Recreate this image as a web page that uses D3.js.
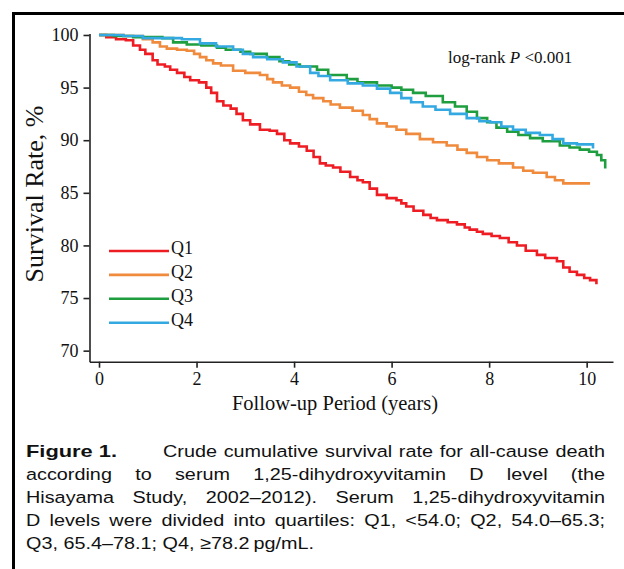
<!DOCTYPE html>
<html>
<head>
<meta charset="utf-8">
<script src="https://cdn.jsdelivr.net/npm/d3@7"></script>
<style>
body { margin: 0; background: #fff; }
svg { display: block; }
.tick text { font-family: "Liberation Serif", "Times New Roman", serif; font-size: 18px; fill: #111; }
</style>
</head>
<body>
<script>
// Kaplan-Meier steps: [years, survival %]
var q1 = [[0,100],[0.15,99.8],[0.35,99.6],[0.55,99.5],[0.7,99.0],[0.84,98.6],[0.95,98.2],[1.1,97.6],[1.2,97.2],
	[1.35,97.0],[1.46,96.7],[1.6,96.4],[1.75,96.0],[1.87,95.7],[2.05,95.5],[2.2,95.0],[2.3,94.5],[2.42,93.7],
	[2.55,93.3],[2.7,93.0],[2.82,92.5],[2.95,91.9],[3.1,91.5],[3.3,91.0],[3.5,90.9],[3.65,90.6],[3.8,90.0],
	[3.92,89.7],[4.1,89.4],[4.26,89.0],[4.4,88.4],[4.53,87.8],[4.65,87.6],[4.8,87.4],[4.95,87.0],[5.15,86.5],
	[5.3,86.2],[5.41,86.0],[5.55,85.4],[5.7,84.8],[5.9,84.5],[6.1,84.3],[6.2,84.0],[6.3,83.7],[6.45,83.3],
	[6.65,82.9],[6.8,82.6],[6.93,82.4],[7.15,82.2],[7.34,82.0],[7.5,81.7],[7.6,81.5],[7.75,81.3],[7.87,81.1],
	[8.05,80.9],[8.22,80.7],[8.4,80.3],[8.57,80.0],[8.75,79.5],[8.98,79.1],[9.15,78.8],[9.39,78.5],[9.52,77.9],
	[9.65,77.5],[9.8,77.2],[9.95,76.9],[10.07,76.7],[10.2,76.3]];
var q2 = [[0,100],[0.5,99.9],[0.9,99.6],[1.1,99.3],[1.25,98.9],[1.39,98.7],[1.6,98.6],[1.8,98.5],[1.95,98.2],
	[2.07,97.9],[2.2,97.6],[2.34,97.3],[2.5,97.1],[2.75,96.6],[3.0,96.4],[3.3,96.2],[3.45,95.8],[3.57,95.5],
	[3.75,95.2],[3.92,95.0],[4.1,94.6],[4.25,94.3],[4.39,94.0],[4.6,93.7],[4.75,93.4],[4.94,93.1],[5.2,92.8],
	[5.41,92.4],[5.55,92.0],[5.7,91.6],[5.9,91.3],[6.1,91.0],[6.3,90.6],[6.58,90.1],[6.85,89.8],[7.13,89.5],
	[7.35,89.1],[7.54,88.8],[7.75,88.4],[7.96,88.1],[8.2,87.8],[8.49,87.4],[8.7,87.1],[8.9,86.9],[9.18,86.5],
	[9.35,86.2],[9.52,85.9],[10.07,85.9]];
var q3 = [[0,100],[0.3,99.9],[0.7,99.8],[1.3,99.7],[1.52,99.3],[1.8,99.1],[2.1,99.0],[2.42,98.8],[2.6,98.6],
	[2.9,98.4],[3.1,98.2],[3.44,97.9],[3.7,97.5],[3.9,97.2],[4.12,97.0],[4.47,96.7],[4.7,96.2],[5.08,95.8],
	[5.3,95.5],[5.7,95.2],[6.0,95.0],[6.2,94.8],[6.44,94.5],[6.7,94.2],[7.05,93.6],[7.3,93.2],[7.54,92.7],
	[7.75,92.1],[7.96,91.7],[8.15,91.2],[8.37,90.8],[8.6,90.5],[8.84,90.2],[9.1,89.9],[9.45,89.5],[9.65,89.3],
	[9.86,89.1],[10.05,88.9],[10.21,88.6],[10.3,88.1],[10.38,87.3]];
var q4 = [[0,100],[0.5,99.9],[0.9,99.7],[1.4,99.7],[1.7,99.6],[2.07,99.2],[2.4,98.9],[2.75,98.6],[2.95,98.2],
	[3.16,97.9],[3.45,97.7],[3.77,97.4],[4.05,97.0],[4.33,96.4],[4.5,96.1],[4.74,95.7],[5.1,95.4],[5.41,95.2],
	[5.7,94.9],[5.97,94.5],[6.2,94.0],[6.4,93.6],[6.64,93.2],[6.9,92.9],[7.2,92.5],[7.54,92.1],[7.8,91.8],
	[8.02,91.7],[8.25,91.3],[8.49,91.0],[8.75,90.7],[9.04,90.5],[9.3,90.1],[9.52,89.7],[9.8,89.6],[10.13,89.2]];

var seriesNames = ['Q1', 'Q2', 'Q3', 'Q4'];
var seriesColors = ['#ee1d23', '#f08a3c', '#1e9e3e', '#34a9e1'];
var xTicks = [0, 2, 4, 6, 8, 10];
var yTicks = [70, 75, 80, 85, 90, 95, 100];
var captionLines = [
	'Crude cumulative survival rate for all-cause death',
	'according to serum 1,25-dihydroxyvitamin D level (the',
	'Hisayama Study, 2002\u20132012). Serum 1,25-dihydroxyvitamin',
	'D levels were divided into quartiles: Q1, <54.0; Q2, 54.0\u201365.3;',
	'Q3, 65.4\u201378.1; Q4, \u226578.2\u2009pg/mL.'
];

var W = 624, H = 569;
var svg = d3.select('body').append('svg')
	.attr('width', W)
	.attr('height', H);

svg.append('rect').attr('width', W).attr('height', H).attr('fill', '#fff');

// frame (left + top rule)
svg.append('path')
	.attr('d', 'M13.5,' + H + 'V13.5H' + W)
	.attr('fill', 'none')
	.attr('stroke', '#000')
	.attr('stroke-width', 3);

var x = d3.scaleLinear()
	.domain([-0.195, 10.54])
	.range([89.5, 613]);

var y = d3.scaleLinear()
	.domain([68.95, 100.15])
	.range([361.7, 33.4]);

svg.append('g')
	.attr('transform', 'translate(0,361.7)')
	.call(d3.axisBottom(x).tickValues(xTicks).tickSize(6).tickSizeOuter(0).tickPadding(5));

svg.append('g')
	.attr('transform', 'translate(89.5,0)')
	.call(d3.axisLeft(y).tickValues(yTicks).tickSize(6).tickSizeOuter(0).tickPadding(5));

svg.selectAll('.domain, .tick line').attr('stroke', '#222').attr('stroke-width', 1.6);

var line = d3.line()
	.curve(d3.curveStepAfter)
	.x(function(d) { return x(d[0]); })
	.y(function(d) { return y(d[1]); });

[q1, q2, q3, q4].forEach(function(s, i) {
	svg.append('path')
		.datum(s)
		.attr('d', line)
		.attr('fill', 'none')
		.attr('stroke', seriesColors[i])
		.attr('stroke-width', 2.6);
});

// legend
var legend = svg.append('g');
seriesNames.forEach(function(n, i) {
	var ly = 251 + i * 23.9;
	legend.append('line')
		.attr('x1', 109).attr('x2', 169)
		.attr('y1', ly).attr('y2', ly)
		.attr('stroke', seriesColors[i])
		.attr('stroke-width', 2.6);
	legend.append('text')
		.attr('x', 171).attr('y', ly + 3)
		.style('font-family', '"Liberation Serif", serif')
		.style('font-size', '18px')
		.attr('fill', '#111')
		.text(n);
});

var lr = svg.append('text')
	.attr('x', 448).attr('y', 63)
	.style('font-family', '"Liberation Serif", serif')
	.style('font-size', '17px')
	.attr('fill', '#111');
lr.append('tspan').text('log-rank ');
lr.append('tspan').style('font-style', 'italic').text('P');
lr.append('tspan').text(' <0.001');

svg.append('text')
	.attr('x', 335).attr('y', 410)
	.attr('text-anchor', 'middle')
	.style('font-family', '"Liberation Serif", serif')
	.style('font-size', '20.5px')
	.attr('fill', '#111')
	.text('Follow-up Period (years)');

svg.append('text')
	.attr('transform', 'translate(43,194) rotate(-90)')
	.attr('text-anchor', 'middle')
	.style('font-family', '"Liberation Serif", serif')
	.style('font-size', '26px')
	.attr('fill', '#111')
	.text('Survival Rate, %');

// caption: glyph width set so line 1 just fits, then lines 1-4 justified
var capLeft = 26, capRight = 605, capTop = 457, capStep = 23, firstLineX = 163;
var cap = svg.append('g')
	.style('font-family', '"Liberation Sans", Arial, sans-serif')
	.style('font-size', '17px')
	.attr('fill', '#111');

cap.append('text')
	.attr('x', capLeft).attr('y', capTop)
	.style('font-weight', 'bold')
	.attr('textLength', 91)
	.attr('lengthAdjust', 'spacingAndGlyphs')
	.text('Figure 1.');

var texts = captionLines.map(function(t) {
	return cap.append('text').text(t);
});
var k = 0.985 * (capRight - firstLineX) / texts[0].node().getComputedTextLength();

texts.forEach(function(tx, i) {
	var t = captionLines[i];
	var x0 = i === 0 ? firstLineX : capLeft;
	tx.attr('transform', 'translate(' + x0 + ',' + (capTop + i * capStep) + ') scale(' + k + ',1)');
	if (i < captionLines.length - 1) {
		var natural = tx.node().getComputedTextLength();
		var gaps = t.split(' ').length - 1;
		tx.attr('word-spacing', ((capRight - x0) / k - natural) / gaps);
	}
});
</script>
</body>
</html>
